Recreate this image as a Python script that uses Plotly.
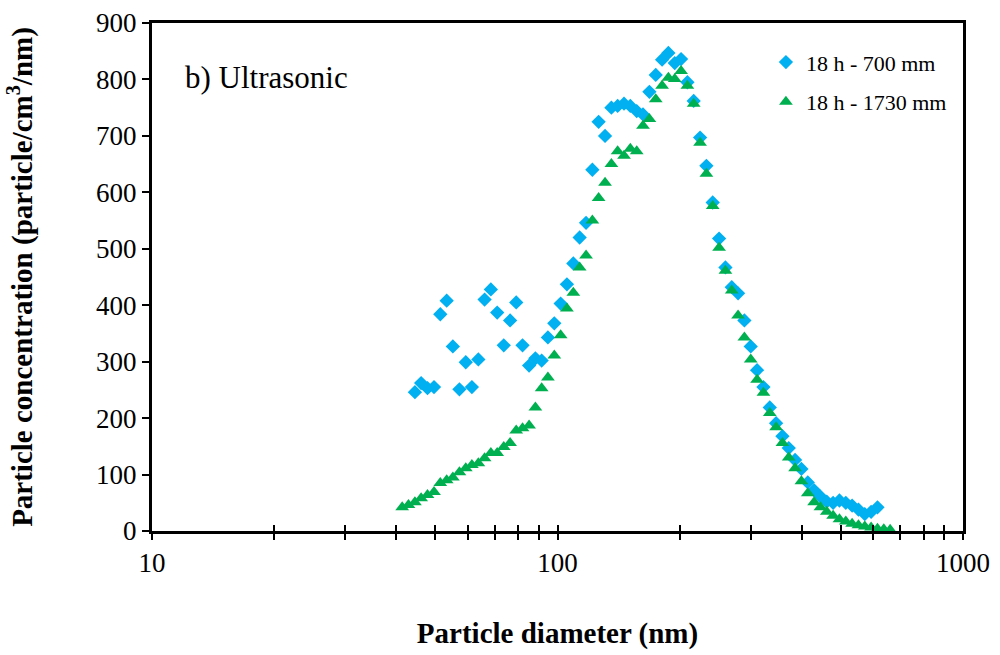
import plotly.graph_objects as go

# Particle diameters (nm) and concentrations (particle/cm3/nm)
d_700 = [44.5, 46.1, 47.8, 49.6, 51.4, 53.3, 55.2, 57.3, 59.4, 61.5, 63.8, 66.1, 68.5, 71.0,
         73.7, 76.4, 79.1, 82.0, 85.1, 88.2, 91.4, 94.7, 98.2, 101.8, 105.5, 109.4, 113.4,
         117.6, 121.9, 126.3, 131.0, 135.8, 140.7, 145.9, 151.2, 156.8, 162.5, 168.5, 174.7,
         181.1, 187.7, 194.6, 201.7, 209.1, 216.7, 224.7, 232.9, 241.4, 250.3, 259.5, 269.0,
         278.8, 289.0, 299.6, 310.6, 322.0, 333.8, 346.0, 358.7, 371.8, 385.4, 399.5, 414.2,
         429.4, 445.1, 461.4, 478.3, 495.8, 514.0, 532.8, 552.3, 572.5, 593.5, 615.3]
c_700 = [246, 262, 253, 255, 384, 408, 327, 251, 299, 255, 304, 410, 428, 387,
         329, 373, 405, 329, 293, 306, 302, 343, 368, 403, 437, 474, 520,
         546, 640, 725, 700, 750, 753, 757, 753, 744, 738, 778, 808,
         835, 847, 829, 836, 795, 762, 697, 647, 582, 518, 467, 432,
         421, 373, 327, 285, 255, 219, 191, 168, 147, 126, 110, 86,
         72, 61, 52, 50, 54, 50, 45, 38, 30, 34, 42]

d_1730 = [41.4, 42.9, 44.5, 46.1, 47.8, 49.6, 51.4, 53.3, 55.2, 57.3, 59.4, 61.5, 63.8, 66.1,
          68.5, 71.0, 73.7, 76.4, 79.1, 82.0, 85.1, 88.2, 91.4, 94.7, 98.2, 101.8, 105.5,
          109.4, 113.4, 117.6, 121.9, 126.3, 131.0, 135.8, 140.7, 145.9, 151.2, 156.8, 162.5,
          168.5, 174.7, 181.1, 187.7, 194.6, 201.7, 209.1, 216.7, 224.7, 232.9, 241.4, 250.3,
          259.5, 269.0, 278.8, 289.0, 299.6, 310.6, 322.0, 333.8, 346.0, 358.7, 371.8, 385.4,
          399.5, 414.2, 429.4, 445.1, 461.4, 478.3, 495.8, 514.0, 532.8, 552.3, 572.5, 593.5,
          615.3, 637.8, 661.2]
c_1730 = [42, 46, 51, 58, 64, 69, 85, 90, 95, 104, 111, 117, 120, 129,
          138, 138, 149, 156, 178, 182, 187, 219, 253, 272, 311, 347, 394,
          422, 467, 488, 550, 590, 617, 650, 673, 665, 677, 673, 718,
          730, 765, 789, 803, 801, 815, 789, 757, 688, 633, 576, 502,
          461, 426, 382, 343, 304, 268, 245, 209, 184, 156, 130, 111,
          88, 67, 51, 42, 34, 27, 21, 17, 13, 10, 8, 6,
          4, 3, 2]

x_ticks = [10, 100, 1000]
y_ticks = [0, 100, 200, 300, 400, 500, 600, 700, 800, 900]
minor_x = [20, 30, 40, 50, 60, 70, 80, 90, 200, 300, 400, 500, 600, 700, 800, 900]

FONT = "Liberation Serif, Times New Roman, serif"

fig = go.Figure()
fig.add_trace(go.Scatter(x=d_700, y=c_700, mode="markers", name="18 h - 700 mm",
                         legendgroup="a",
                         marker=dict(symbol="diamond", size=11, color="#00B0F0")))
fig.add_trace(go.Scatter(x=d_1730, y=c_1730, mode="markers", name="18 h - 1730 mm",
                         legendgroup="b",
                         marker=dict(symbol="triangle-up", size=12, color="#00B050")))
# invisible trace carrying the inside half of the crossing x ticks
fig.add_trace(go.Scatter(x=[10, 1000], y=[None, None], xaxis="x2", showlegend=False,
                         hoverinfo="skip", mode="markers"))

fig.update_layout(
    width=1000, height=655,
    margin=dict(l=152, r=37, t=23, b=124),
    paper_bgcolor="white", plot_bgcolor="white",
    font=dict(family=FONT, size=27, color="black"),
    showlegend=True,
    legend=dict(x=0.757, y=0.964, xanchor="left", yanchor="top",
                font=dict(family=FONT, size=22, color="black"),
                bgcolor="rgba(0,0,0,0)", tracegroupgap=8),
    xaxis=dict(type="log", range=[1, 3], tickvals=x_ticks,
               ticktext=[str(v) for v in x_ticks], automargin=False,
               ticks="outside", ticklen=6, tickwidth=1.5, tickcolor="black",
               minor=dict(tickvals=minor_x, ticks="outside", ticklen=6,
                          tickwidth=1.5, tickcolor="black"),
               showline=True, linewidth=3, linecolor="black", mirror=True,
               showgrid=False, zeroline=False,
               tickfont=dict(family=FONT, size=27),
               title=dict(text="<b>Particle diameter (nm)</b>", standoff=46,
                          font=dict(family=FONT, size=29))),
    xaxis2=dict(type="log", range=[1, 3], overlaying="x", side="bottom",
                tickvals=x_ticks, showticklabels=False, automargin=False,
                ticks="inside", ticklen=6, tickwidth=1.5, tickcolor="black",
                minor=dict(tickvals=minor_x, ticks="inside", ticklen=6,
                           tickwidth=1.5, tickcolor="black"),
                showline=False, showgrid=False, zeroline=False),
    yaxis=dict(range=[0, 900], tickvals=y_ticks, automargin=False,
               ticks="outside", ticklen=7, tickwidth=1.5, tickcolor="black",
               showline=True, linewidth=3, linecolor="black", mirror=True,
               showgrid=False, zeroline=False,
               tickfont=dict(family=FONT, size=27),
               title=dict(text="<b>Particle concentration (particle/cm<sup>3</sup>/nm)</b>",
                          standoff=55, font=dict(family=FONT, size=29))),
    annotations=[dict(text="b) Ultrasonic", xref="paper", yref="paper",
                      x=0.038, y=0.892, xanchor="left", yanchor="middle",
                      showarrow=False, font=dict(family=FONT, size=31, color="black"))],
)

fig.write_html("out.html")
